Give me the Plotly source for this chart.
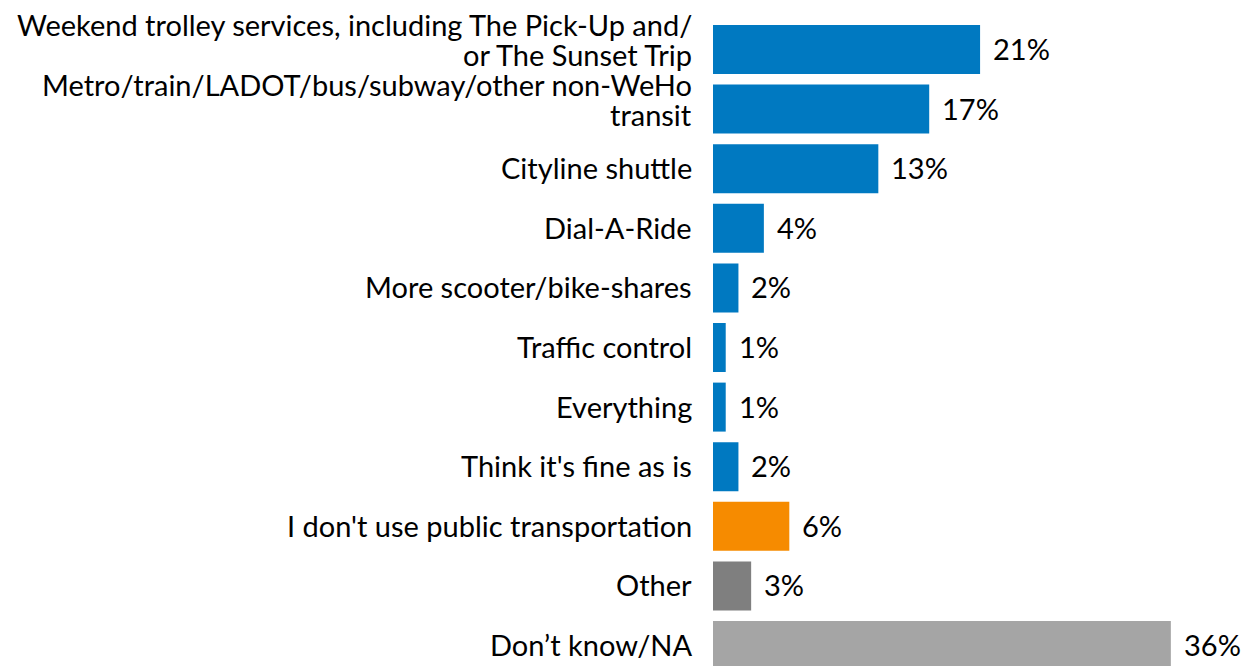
import plotly.graph_objects as go

categories = [
    "Weekend trolley services, including The Pick-Up and/<br>or The Sunset Trip",
    "Metro/train/LADOT/bus/subway/other non-WeHo<br>transit",
    "Cityline shuttle",
    "Dial-A-Ride",
    "More scooter/bike-shares",
    "Traffic control",
    "Everything",
    "Think it's fine as is",
    "I don't use public transportation",
    "Other",
    "Don\u2019t know/NA",
]
values = [21, 17, 13, 4, 2, 1, 1, 2, 6, 3, 36]
bar_colors = [
    "#0079C1", "#0079C1", "#0079C1", "#0079C1", "#0079C1", "#0079C1",
    "#0079C1", "#0079C1", "#F68B00", "#7F7F7F", "#A5A5A5",
]

FONT = "Lato, Carlito, Calibri, sans-serif"
FSIZE = 29
LINE_STEP = 30  # tight line spacing for wrapped category labels

fig = go.Figure(
    go.Bar(
        x=values,
        y=categories,
        orientation="h",
        marker=dict(color=bar_colors, line=dict(width=0)),
        hoverinfo="skip",
    )
)

for cat, v in zip(categories, values):
    # percentage label to the right of the bar
    fig.add_annotation(
        x=v, y=cat, text=f"{v}%", showarrow=False,
        xanchor="left", yanchor="middle", xshift=11, yshift=1,
        font=dict(family=FONT, size=FSIZE, color="#000000"),
    )
    # category label, right-aligned against the bars, one line per annotation
    lines = cat.split("<br>")
    n = len(lines)
    top = 25 if n > 1 else 1
    for i, line in enumerate(lines):
        fig.add_annotation(
            xref="paper", x=0, y=cat, text=line, showarrow=False,
            xanchor="right", yanchor="middle", xshift=-19,
            yshift=top - i * LINE_STEP,
            font=dict(family=FONT, size=FSIZE, color="#000000"),
        )

fig.update_layout(
    width=1260, height=666,
    margin=dict(l=713, r=51, t=20, b=0),
    paper_bgcolor="white", plot_bgcolor="white",
    bargap=0.178,
    showlegend=False,
    xaxis=dict(range=[0, 39], visible=False, fixedrange=True),
    yaxis=dict(
        type="category",
        range=[10.344, -0.495],
        showgrid=False, zeroline=False, showline=False,
        ticks="", showticklabels=False,
        fixedrange=True,
    ),
)

fig.write_html("out.html")
